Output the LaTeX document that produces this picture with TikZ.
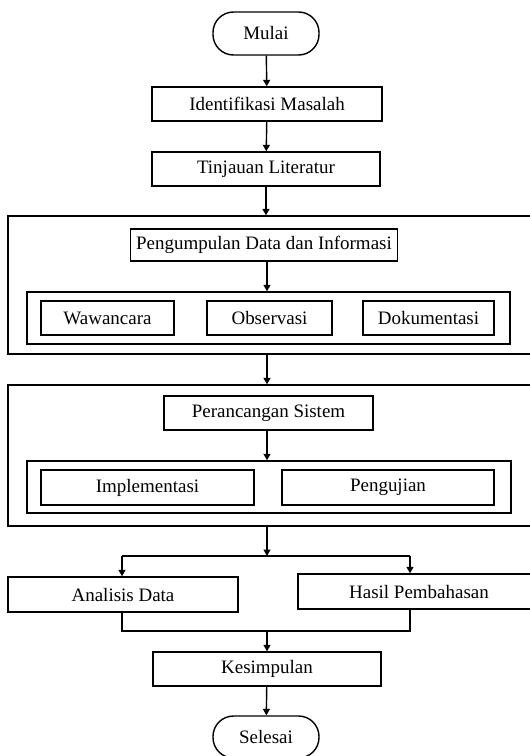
\documentclass[tikz,border=0pt]{standalone}
\usepackage{fontspec}
\setmainfont{Liberation Serif}
\usetikzlibrary{arrows.meta,positioning}

\begin{document}
\begin{tikzpicture}[
  every node/.style={align=center, font=\fontsize{10.8}{13}\selectfont},
  terminal/.style={rectangle, rounded corners=0.41cm, draw=black, line width=0.8pt, minimum width=2.12cm, minimum height=0.86cm},
  process/.style={rectangle, draw=black, line width=0.8pt, minimum height=0.68cm},
  frame/.style={rectangle, draw=black, line width=0.8pt},
  group/.style={rectangle, draw=black, line width=0.8pt, minimum height=1.04cm},
  arrow/.style={-{Triangle[length=1.3mm, width=1.4mm]}, line width=0.8pt},
  link/.style={line width=0.8pt}
]
\useasboundingbox (0,0) rectangle (10.6,-15.12);

% --- TOP (Start and Preparation) ---
\node[terminal] (mulai) at (5.32,-0.67) {Mulai};
\node[process, minimum width=4.60cm] (identifikasi) at (5.34,-2.08) {Identifikasi Masalah};
\node[process, minimum width=4.56cm] (tinjauan) at (5.32,-3.38) {Tinjauan Literatur};

% --- DATA COLLECTION BLOCK ---
\node[frame, minimum width=10.54cm, minimum height=2.76cm] (kumpulblok) at (5.43,-5.70) {};
\node[process, minimum width=5.32cm, minimum height=0.64cm] (pengumpulan) at (5.28,-4.90) {Pengumpulan Data dan Informasi};
\node[group, minimum width=9.66cm] (metode) at (5.37,-6.36) {};
\node[process, minimum width=2.66cm] (wawancara) at (2.15,-6.36) {Wawancara};
\node[process, minimum width=2.50cm] (observasi) at (5.39,-6.36) {Observasi};
\node[process, minimum width=2.62cm] (dokumentasi) at (8.57,-6.36) {Dokumentasi};

% --- SYSTEM DESIGN BLOCK ---
\node[frame, minimum width=10.54cm, minimum height=2.82cm] (rancangblok) at (5.43,-9.11) {};
\node[process, minimum width=4.18cm] (perancangan) at (5.37,-8.26) {Perancangan Sistem};
\node[group, minimum width=9.68cm] (tahap) at (5.38,-9.74) {};
\node[process, minimum width=4.26cm, minimum height=0.70cm] (implementasi) at (2.95,-9.75) {Implementasi};
\node[process, minimum width=4.24cm, minimum height=0.70cm] (pengujian) at (7.76,-9.75) {Pengujian};

% --- RESULTS AND END ---
\node[process, minimum width=4.60cm, minimum height=0.70cm] (analisis) at (2.46,-11.89) {Analisis Data};
\node[process, minimum width=4.84cm, minimum height=0.70cm] (hasil) at (8.38,-11.83) {Hasil Pembahasan};
\node[process, minimum width=4.56cm] (kesimpulan) at (5.34,-13.38) {Kesimpulan};
\node[terminal, minimum height=0.84cm] (selesai) at (5.32,-14.74) {Selesai};

\coordinate (cabang) at (5.34,-11.12);
\coordinate (cabangkiri) at (2.44,-11.12);
\coordinate (cabangkanan) at (8.20,-11.12);
\coordinate (gabung) at (5.34,-12.62);
\coordinate (gabungkiri) at (2.44,-12.62);
\coordinate (gabungkanan) at (8.20,-12.62);

% --- MAIN FLOW ---
\draw[arrow] (mulai) -- (identifikasi);
\draw[arrow] (identifikasi) -- (tinjauan);
\draw[arrow] (tinjauan.south) -- (tinjauan.south |- kumpulblok.north);
\draw[arrow] (pengumpulan.south -| cabang) -- (metode.north -| cabang);
\draw[arrow] (kumpulblok.south -| cabang) -- (rancangblok.north -| cabang);
\draw[arrow] (perancangan.south -| cabang) -- (tahap.north -| cabang);

% --- SPLIT (Fan-out) ---
\draw[arrow] (rancangblok.south -| cabang) -- (cabang);
\draw[link] (cabangkiri) -- (cabangkanan);
\draw[arrow] (cabangkiri) -- (cabangkiri |- analisis.north);
\draw[arrow] (cabangkanan) -- (cabangkanan |- hasil.north);

% --- MERGE ---
\draw[link] (cabangkiri |- analisis.south) -- (gabungkiri) -- (gabungkanan) -- (cabangkanan |- hasil.south);
\draw[arrow] (gabung) -- (kesimpulan);
\draw[arrow] (kesimpulan) -- (selesai);

\end{tikzpicture}
\end{document}
